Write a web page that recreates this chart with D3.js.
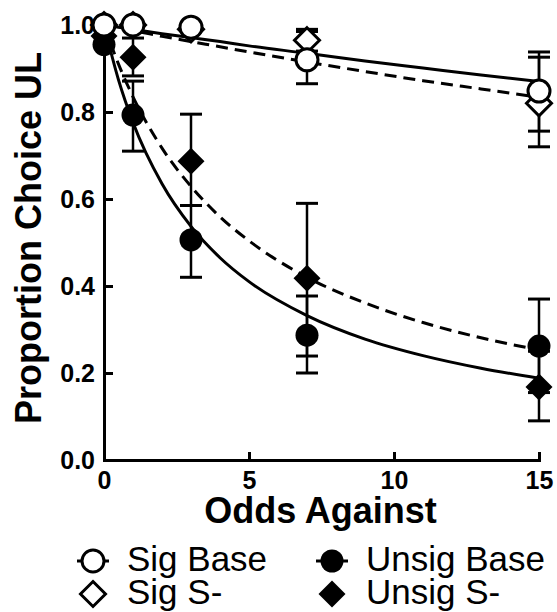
<!DOCTYPE html>
<html>
<head>
<meta charset="utf-8">
<script src="https://cdn.jsdelivr.net/npm/d3@7"></script>
<style>
  body { margin: 0; background: #fff; }
  svg { display: block; font-family: "Liberation Sans", Arial, sans-serif; }
</style>
</head>
<body>
<div id="chart"></div>
<script>
// Odds against (x) and proportion of choices of the UL option (y)
var oddsAgainst = [0, 1, 3, 7, 15];

var sigBase     = [1.0, 1.0, 0.995, 0.92, 0.848];
var sigBaseLo   = [1.0, 1.0, 0.995, 0.865, 0.756];
var sigBaseHi   = [1.0, 1.0, 0.995, 0.985, 0.938];

var sigSminus   = [1.0, 1.0, 0.99, 0.965, 0.82];
var sigSminusLo = [1.0, 1.0, 0.99, 0.94, 0.72];
var sigSminusHi = [1.0, 1.0, 0.99, 0.99, 0.926];

var unsigBase   = [0.955, 0.793, 0.506, 0.287, 0.262];
var unsigBaseLo = [0.955, 0.71, 0.42, 0.20, 0.155];
var unsigBaseHi = [0.955, 0.871, 0.585, 0.377, 0.37];

var unsigSminus   = [0.975, 0.926, 0.687, 0.418, 0.168];
var unsigSminusLo = [0.975, 0.883, 0.585, 0.239, 0.09];
var unsigSminusHi = [0.975, 0.97, 0.795, 0.59, 0.25];

// fitted (hyperbolic) curves
var fitX           = [0, 0.5, 1, 2, 3, 4, 5, 7, 9, 11, 13, 15];
var sigBaseFit     = [1, 0.995, 0.990, 0.980, 0.971, 0.962, 0.952, 0.935, 0.917, 0.901, 0.885, 0.870];
var sigSminusFit   = [1, 0.993, 0.987, 0.974, 0.962, 0.950, 0.938, 0.915, 0.893, 0.872, 0.853, 0.834];
var unsigBaseFit   = [1, 0.874, 0.776, 0.635, 0.537, 0.465, 0.410, 0.332, 0.278, 0.240, 0.211, 0.188];
var unsigSminusFit = [1, 0.910, 0.835, 0.717, 0.629, 0.559, 0.504, 0.420, 0.361, 0.316, 0.281, 0.253];

var xTicks = [0, 5, 10, 15];
var yTicks = [0, 0.2, 0.4, 0.6, 0.8, 1.0];

var svgWidth = 557, svgHeight = 612;
var margin = {top: 25, right: 18, bottom: 152, left: 104};

var svg = d3.select("#chart")
  .append("svg")
  .attr("width", svgWidth)
  .attr("height", svgHeight);

var xScale = d3.scaleLinear()
  .domain([0, 15])
  .range([margin.left, svgWidth - margin.right]);

var yScale = d3.scaleLinear()
  .domain([0, 1])
  .range([svgHeight - margin.bottom, margin.top]);

// Fit lines
var line = d3.line()
  .x(d => xScale(d[0]))
  .y(d => yScale(d[1]))
  .curve(d3.curveMonotoneX);

var fits = [
  {vals: sigBaseFit, dash: null},
  {vals: sigSminusFit, dash: "12,7"},
  {vals: unsigBaseFit, dash: null},
  {vals: unsigSminusFit, dash: "12,7"}
];

svg.append("g").selectAll("path")
  .data(fits)
  .enter()
  .append("path")
  .attr("d", f => line(fitX.map((x, i) => [x, f.vals[i]])))
  .attr("fill", "none")
  .attr("stroke", "#000")
  .attr("stroke-width", 3)
  .attr("stroke-dasharray", f => f.dash);

// Axes
var xAxis = d3.axisBottom(xScale)
  .tickValues(xTicks)
  .tickFormat(d3.format("d"))
  .tickSizeInner(-8)
  .tickSizeOuter(0)
  .tickPadding(11);

var yAxis = d3.axisLeft(yScale)
  .tickValues(yTicks)
  .tickFormat(d3.format(".1f"))
  .tickSizeInner(-9)
  .tickSizeOuter(0)
  .tickPadding(9);

var gx = svg.append("g")
  .attr("transform", `translate(0, ${yScale(0)})`)
  .call(xAxis);

var gy = svg.append("g")
  .attr("transform", `translate(${xScale(0)}, 0)`)
  .call(yAxis);

[gx, gy].forEach(function(g) {
  g.select(".domain").attr("stroke-width", 3).attr("stroke-linecap", "square");
  g.selectAll(".tick line").attr("stroke-width", 3);
  g.selectAll(".tick text")
    .attr("font-family", "Liberation Sans, Arial, sans-serif")
    .attr("font-size", 25)
    .attr("font-weight", "bold")
    .attr("fill", "#000");
});
gx.selectAll(".tick").filter(d => d === 0).select("line").remove();

// Error bars
var series = [
  {name: "Sig S-", vals: sigSminus, lo: sigSminusLo, hi: sigSminusHi, shape: "diamond", fill: "#fff"},
  {name: "Unsig S-", vals: unsigSminus, lo: unsigSminusLo, hi: unsigSminusHi, shape: "diamond", fill: "#000"},
  {name: "Unsig Base", vals: unsigBase, lo: unsigBaseLo, hi: unsigBaseHi, shape: "circle", fill: "#000"},
  {name: "Sig Base", vals: sigBase, lo: sigBaseLo, hi: sigBaseHi, shape: "circle", fill: "#fff"}
];

var capW = 11;
var errGroup = svg.append("g").attr("stroke", "#000");
series.forEach(function(s) {
  oddsAgainst.forEach(function(x, i) {
    if (s.hi[i] - s.lo[i] < 0.001) return;
    var cx = xScale(x);
    errGroup.append("line")
      .attr("x1", cx).attr("x2", cx)
      .attr("y1", yScale(s.lo[i])).attr("y2", yScale(s.hi[i]))
      .attr("stroke-width", 2.5);
    [s.lo[i], s.hi[i]].forEach(function(v) {
      errGroup.append("line")
        .attr("x1", cx - capW).attr("x2", cx + capW)
        .attr("y1", yScale(v)).attr("y2", yScale(v))
        .attr("stroke-width", 3);
    });
  });
});

// Markers
function diamondPath(r) {
  return `M0,${-r}L${r},0L0,${r}L${-r},0Z`;
}

function drawMarker(g, shape, fill) {
  if (shape === "circle") {
    g.append("circle")
      .attr("r", fill === "#fff" ? 11 : 11.5)
      .attr("fill", fill)
      .attr("stroke", "#000")
      .attr("stroke-width", fill === "#fff" ? 3 : 0);
  } else {
    g.append("path")
      .attr("d", diamondPath(fill === "#fff" ? 12.5 : 13.5))
      .attr("fill", fill)
      .attr("stroke", "#000")
      .attr("stroke-width", fill === "#fff" ? 3 : 0)
      .attr("stroke-linejoin", "miter");
  }
}

series.forEach(function(s) {
  var g = svg.append("g");
  g.selectAll("g")
    .data(oddsAgainst)
    .enter()
    .append("g")
    .attr("transform", (x, i) => `translate(${xScale(x)}, ${yScale(s.vals[i])})`)
    .each(function() { drawMarker(d3.select(this), s.shape, s.fill); });
});

// Axis titles
svg.append("text")
  .attr("x", (xScale(0) + xScale(15)) / 2 - 1)
  .attr("y", 523)
  .attr("text-anchor", "middle")
  .attr("font-size", 36)
  .attr("font-weight", "bold")
  .text("Odds Against");

svg.append("text")
  .attr("transform", "translate(41, 238) rotate(-90)")
  .attr("text-anchor", "middle")
  .attr("font-size", 36)
  .attr("font-weight", "bold")
  .text("Proportion Choice UL");

// Legend
var legendItems = [
  {label: "Sig Base", shape: "circle", fill: "#fff", x: 93, y: 561, stub: true},
  {label: "Sig S-", shape: "diamond", fill: "#fff", x: 93, y: 594, stub: false},
  {label: "Unsig Base", shape: "circle", fill: "#000", x: 332, y: 561, stub: true},
  {label: "Unsig S-", shape: "diamond", fill: "#000", x: 332, y: 594, stub: false}
];

var legend = svg.append("g");
legendItems.forEach(function(d) {
  var g = legend.append("g").attr("transform", `translate(${d.x}, ${d.y})`);
  if (d.stub) {
    g.append("line")
      .attr("x1", -16).attr("x2", 16)
      .attr("stroke", "#000")
      .attr("stroke-width", 3);
  }
  drawMarker(g, d.shape, d.fill);
  legend.append("text")
    .attr("x", d.x + 34)
    .attr("y", d.y + 10)
    .attr("font-size", 35)
    .text(d.label);
});
</script>
</body>
</html>
